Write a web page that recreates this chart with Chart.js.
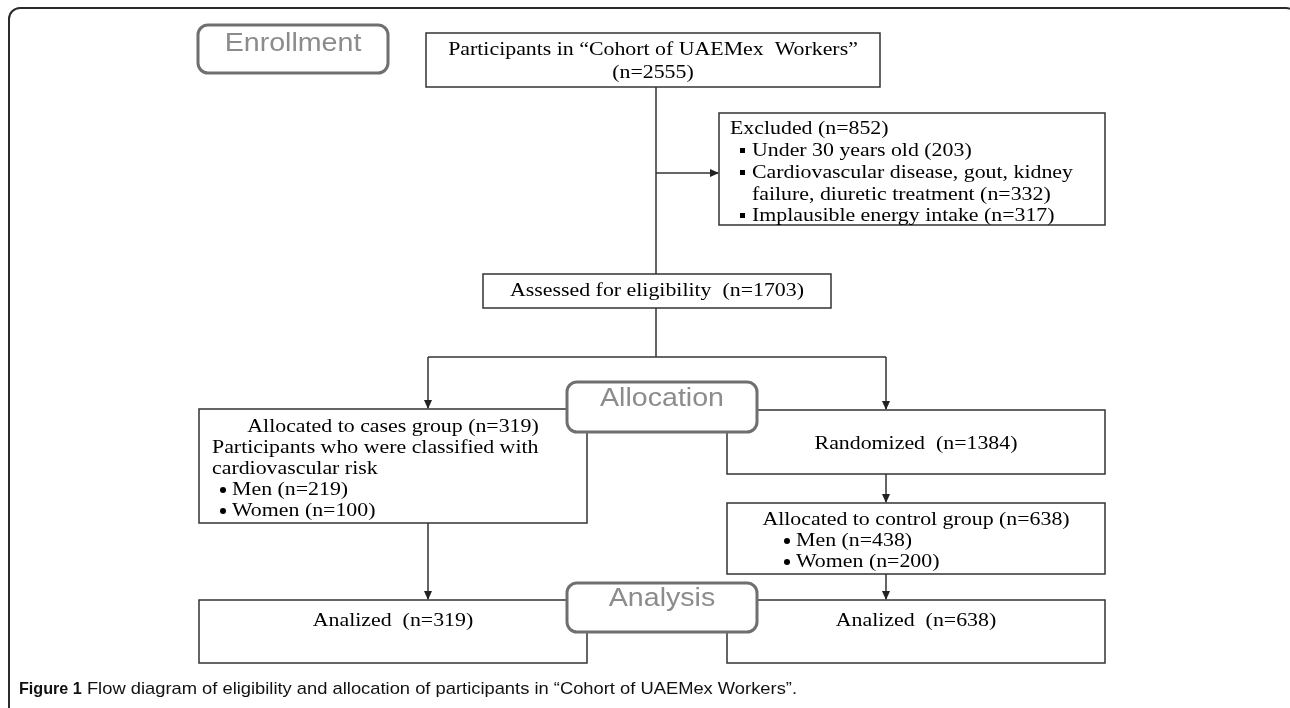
<!DOCTYPE html>
<html>
<head>
<meta charset="utf-8">
<script src="https://cdn.jsdelivr.net/npm/chart.js@4.4.1/dist/chart.umd.min.js"></script>
<style>
  html, body { margin: 0; padding: 0; background: #fff; }
  #wrap { width: 1290px; height: 708px; }
</style>
</head>
<body>
<div id="wrap"><canvas id="flowChart" width="1290" height="708"></canvas></div>
<script>
// participant counts
const stageLabels = ['Enrollment', 'Allocation', 'Analysis'];
const cohortTotal = 2555;
const excludedTotal = 852;
const excludedCounts = [203, 332, 317];
const assessedTotal = 1703;
const randomizedTotal = 1384;
const groupTotals = [319, 638];   // cases, control
const menCounts = [219, 438];
const womenCounts = [100, 200];
const analyzedCounts = [319, 638];

const captionBold = 'Figure 1';
const captionText = ' Flow diagram of eligibility and allocation of participants in \u201cCohort of UAEMex Workers\u201d.';

// layout (diagram units = pixels of the 1290x708 figure)
const boxes = [
    { x0: 426, x1: 880, y0: 33, y1: 87, lines: [
        { t: 'Participants in \u201cCohort of UAEMex  Workers\u201d', c: true, y: 50 },
        { t: '(n=' + cohortTotal + ')', c: true, y: 73 }] },
    { x0: 719, x1: 1105, y0: 113, y1: 225, lines: [
        { t: 'Excluded (n=' + excludedTotal + ')', x: 730, y: 129 },
        { t: 'Under 30 years old (' + excludedCounts[0] + ')', x: 752, y: 151, b: 'sq' },
        { t: 'Cardiovascular disease, gout, kidney', x: 752, y: 173, b: 'sq' },
        { t: 'failure, diuretic treatment (n=' + excludedCounts[1] + ')', x: 752, y: 195 },
        { t: 'Implausible energy intake (n=' + excludedCounts[2] + ')', x: 752, y: 216, b: 'sq' }] },
    { x0: 483, x1: 831, y0: 274, y1: 308, lines: [
        { t: 'Assessed for eligibility  (n=' + assessedTotal + ')', c: true, y: 291 }] },
    { x0: 199, x1: 587, y0: 409, y1: 523, lines: [
        { t: 'Allocated to cases group (n=' + groupTotals[0] + ')', c: true, y: 427 },
        { t: 'Participants who were classified with', x: 212, y: 448 },
        { t: 'cardiovascular risk', x: 212, y: 469 },
        { t: 'Men (n=' + menCounts[0] + ')', x: 232, y: 490, b: 'dot' },
        { t: 'Women (n=' + womenCounts[0] + ')', x: 232, y: 511, b: 'dot' }] },
    { x0: 727, x1: 1105, y0: 410, y1: 474, lines: [
        { t: 'Randomized  (n=' + randomizedTotal + ')', c: true, y: 444 }] },
    { x0: 727, x1: 1105, y0: 503, y1: 574, lines: [
        { t: 'Allocated to control group (n=' + groupTotals[1] + ')', c: true, y: 520 },
        { t: 'Men (n=' + menCounts[1] + ')', x: 796, y: 541, b: 'dot' },
        { t: 'Women (n=' + womenCounts[1] + ')', x: 796, y: 562, b: 'dot' }] },
    { x0: 199, x1: 587, y0: 600, y1: 663, lines: [
        { t: 'Analized  (n=' + analyzedCounts[0] + ')', c: true, y: 621 }] },
    { x0: 727, x1: 1105, y0: 600, y1: 663, lines: [
        { t: 'Analized  (n=' + analyzedCounts[1] + ')', c: true, y: 621 }] }
];

const stageBoxes = [
    { x0: 198, x1: 388, y0: 25, y1: 73, ty: 44 },
    { x0: 567, x1: 757, y0: 382, y1: 432, ty: 399 },
    { x0: 567, x1: 757, y0: 583, y1: 632, ty: 599 }
];

// connectors: [x0, y0, x1, y1, arrow?]
const connectors = [
    [656, 87, 656, 274, false],
    [656, 173, 718, 173, true],
    [656, 308, 656, 357, false],
    [428, 357, 886, 357, false],
    [428, 357, 428, 408, true],
    [886, 357, 886, 409, true],
    [886, 474, 886, 502, true],
    [428, 523, 428, 599, true],
    [886, 574, 886, 599, true]
];

const serif = '19px "Liberation Serif", "Times New Roman", serif';
const stretch = 1.15;

function px(chart, x) { return chart.scales.x.getPixelForValue(x); }
function py(chart, y) { return chart.scales.y.getPixelForValue(y); }

function roundRect(ctx, x, y, w, h, r) {
    ctx.beginPath();
    ctx.moveTo(x + r, y);
    ctx.lineTo(x + w - r, y);
    ctx.arcTo(x + w, y, x + w, y + r, r);
    ctx.lineTo(x + w, y + h - r);
    ctx.arcTo(x + w, y + h, x + w - r, y + h, r);
    ctx.lineTo(x + r, y + h);
    ctx.arcTo(x, y + h, x, y + h - r, r);
    ctx.lineTo(x, y + r);
    ctx.arcTo(x, y, x + r, y, r);
    ctx.closePath();
}

function stretchedText(ctx, text, x, y, centered, sx) {
    ctx.save();
    ctx.textBaseline = 'middle';
    ctx.textAlign = 'left';
    const w = ctx.measureText(text).width * sx;
    ctx.translate(centered ? x - w / 2 : x, y);
    ctx.scale(sx, 1);
    ctx.fillText(text, 0, 0);
    ctx.restore();
}

const flowPlugin = {
    id: 'flowBoxes',
    afterDatasetsDraw(chart) {
        const ctx = chart.ctx;
        ctx.save();

        // outer figure frame
        ctx.strokeStyle = '#2b2b2b';
        ctx.lineWidth = 2;
        roundRect(ctx, px(chart, 9), py(chart, 8), px(chart, 1297) - px(chart, 9), py(chart, 720) - py(chart, 8), 11);
        ctx.stroke();

        // arrow heads
        ctx.fillStyle = '#222';
        connectors.forEach(c => {
            if (!c[4]) return;
            const x = px(chart, c[2]), y = py(chart, c[3]);
            ctx.beginPath();
            if (c[0] === c[2]) {
                ctx.moveTo(x, y + 1); ctx.lineTo(x - 4, y - 8); ctx.lineTo(x + 4, y - 8);
            } else {
                ctx.moveTo(x + 1, y); ctx.lineTo(x - 8, y - 4); ctx.lineTo(x - 8, y + 4);
            }
            ctx.closePath();
            ctx.fill();
        });

        // content boxes
        boxes.forEach(b => {
            const x0 = px(chart, b.x0), x1 = px(chart, b.x1), y0 = py(chart, b.y0), y1 = py(chart, b.y1);
            ctx.fillStyle = '#fff';
            ctx.fillRect(x0, y0, x1 - x0, y1 - y0);
            ctx.strokeStyle = '#333';
            ctx.lineWidth = 1.5;
            ctx.strokeRect(x0, y0, x1 - x0, y1 - y0);
            ctx.fillStyle = '#000';
            ctx.font = serif;
            b.lines.forEach(l => {
                const ty = py(chart, l.y);
                if (l.c) {
                    stretchedText(ctx, l.t, (x0 + x1) / 2, ty, true, stretch);
                } else {
                    const tx = px(chart, l.x);
                    stretchedText(ctx, l.t, tx, ty, false, stretch);
                    if (l.b === 'sq') {
                        ctx.fillRect(tx - 12, ty - 3, 5, 5);
                    } else if (l.b === 'dot') {
                        ctx.beginPath();
                        ctx.arc(tx - 9, ty, 3, 0, Math.PI * 2);
                        ctx.fill();
                    }
                }
            });
        });

        // stage labels
        stageBoxes.forEach((s, i) => {
            const x0 = px(chart, s.x0), x1 = px(chart, s.x1), y0 = py(chart, s.y0), y1 = py(chart, s.y1);
            roundRect(ctx, x0, y0, x1 - x0, y1 - y0, 10);
            ctx.fillStyle = '#fff';
            ctx.fill();
            ctx.strokeStyle = '#6f6f6f';
            ctx.lineWidth = 3;
            ctx.stroke();
            ctx.fillStyle = '#8c8c8c';
            ctx.font = '26px "Liberation Sans", Arial, sans-serif';
            stretchedText(ctx, stageLabels[i], (x0 + x1) / 2, py(chart, s.ty), true, 1.1);
        });

        // caption
        const cy = py(chart, 689);
        let cx = px(chart, 19);
        ctx.fillStyle = '#111';
        ctx.font = 'bold 17px "Liberation Sans", sans-serif';
        const boldW = ctx.measureText(captionBold).width * 0.95;
        stretchedText(ctx, captionBold, cx, cy, false, 0.95);
        cx += boldW;
        ctx.font = '17px "Liberation Sans", sans-serif';
        const fullW = ctx.measureText(captionText).width;
        const sx = (px(chart, 797) - cx) / fullW;
        stretchedText(ctx, captionText, cx, cy, false, sx);

        ctx.restore();
    }
};

const connectorSets = connectors.map(c => ({
    data: [{ x: c[0], y: c[1] }, { x: c[2], y: c[3] }],
    showLine: true,
    borderColor: '#333',
    borderWidth: 1.5,
    pointRadius: 0,
    fill: false
}));

new Chart(document.getElementById('flowChart'), {
    type: 'scatter',
    data: { datasets: connectorSets },
    options: {
        responsive: false,
        animation: false,
        devicePixelRatio: 1,
        events: [],
        layout: { padding: 0 },
        scales: {
            x: { type: 'linear', display: false, min: 0, max: 1290 },
            y: { type: 'linear', display: false, min: 0, max: 708, reverse: true }
        },
        plugins: { legend: { display: false }, tooltip: { enabled: false } }
    },
    plugins: [flowPlugin]
});
</script>
</body>
</html>
